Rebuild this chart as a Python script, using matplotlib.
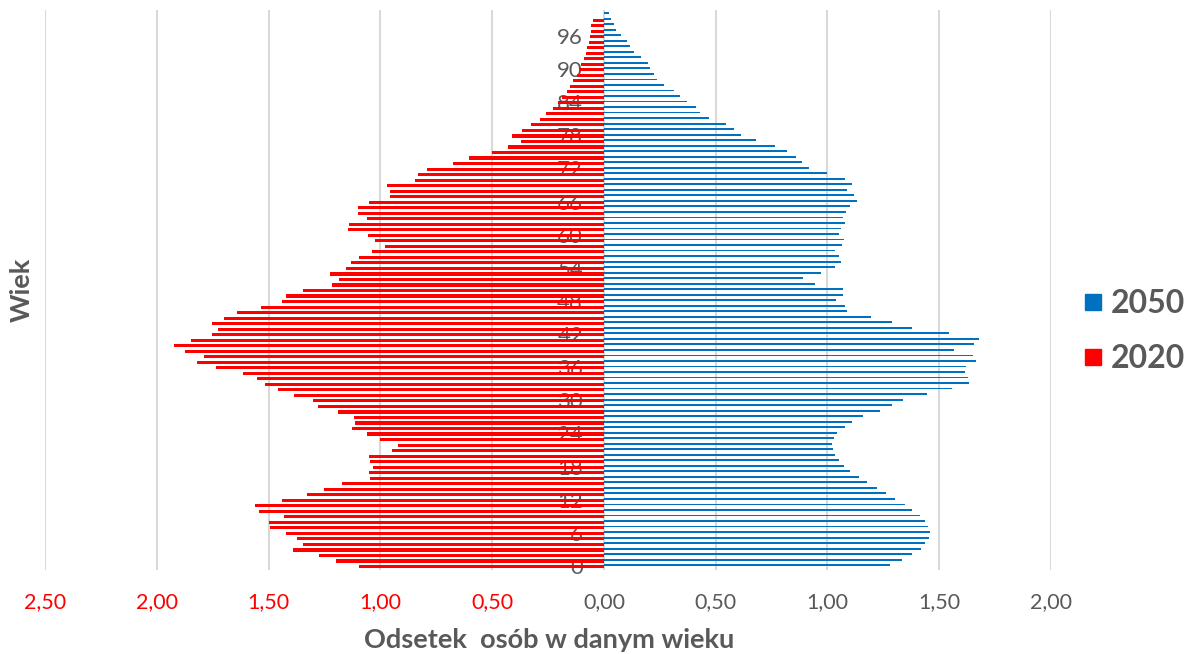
import numpy as np
import matplotlib
matplotlib.use("Agg")
import matplotlib.pyplot as plt
from matplotlib.lines import Line2D

plt.rcParams["font.family"] = ["Lato", "DejaVu Sans"]

# wiek 0..100
ages = np.arange(0, 101)

# odsetek osob w danym wieku, rok 2020 (rysowany po lewej)
share_2020 = [
    1.096, 1.200, 1.273, 1.389, 1.347, 1.371, 1.420, 1.495, 1.499, 1.431,
    1.544, 1.560, 1.441, 1.328, 1.254, 1.173, 1.045, 1.050, 1.035, 1.045,
    1.050, 0.946, 0.923, 1.001, 1.060, 1.127, 1.114, 1.117, 1.191, 1.278,
    1.300, 1.385, 1.458, 1.516, 1.553, 1.615, 1.733, 1.822, 1.787, 1.873,
    1.923, 1.846, 1.751, 1.724, 1.755, 1.700, 1.641, 1.533, 1.441, 1.422,
    1.347, 1.218, 1.187, 1.224, 1.154, 1.133, 1.095, 1.038, 0.978, 1.025,
    1.056, 1.145, 1.142, 1.060, 1.099, 1.099, 1.051, 0.956, 0.956, 0.971,
    0.847, 0.830, 0.792, 0.675, 0.603, 0.499, 0.428, 0.373, 0.410, 0.365,
    0.325, 0.286, 0.260, 0.228, 0.205, 0.187, 0.167, 0.151, 0.138, 0.120,
    0.111, 0.102, 0.089, 0.080, 0.075, 0.066, 0.062, 0.057, 0.056, 0.050,
    0.0,
]

# rok 2050 (po prawej)
share_2050 = [
    1.282, 1.334, 1.377, 1.417, 1.438, 1.455, 1.458, 1.450, 1.435, 1.412,
    1.380, 1.345, 1.304, 1.264, 1.220, 1.179, 1.139, 1.102, 1.075, 1.051,
    1.032, 1.023, 1.020, 1.029, 1.044, 1.077, 1.112, 1.161, 1.234, 1.291,
    1.340, 1.447, 1.557, 1.633, 1.627, 1.614, 1.620, 1.663, 1.651, 1.566,
    1.656, 1.676, 1.545, 1.380, 1.291, 1.194, 1.089, 1.080, 1.039, 1.068,
    1.068, 0.943, 0.889, 0.970, 1.035, 1.059, 1.051, 1.035, 1.066, 1.072,
    1.050, 1.060, 1.080, 1.071, 1.081, 1.102, 1.130, 1.120, 1.086, 1.109,
    1.078, 0.999, 0.919, 0.888, 0.861, 0.818, 0.766, 0.679, 0.612, 0.581,
    0.545, 0.471, 0.432, 0.412, 0.374, 0.342, 0.312, 0.269, 0.237, 0.224,
    0.206, 0.197, 0.167, 0.135, 0.118, 0.103, 0.078, 0.056, 0.045, 0.033,
    0.022,
]

age_ticks = list(range(0, 97, 6))
x_ticks = [-2.5, -2.0, -1.5, -1.0, -0.5, 0.0, 0.5, 1.0, 1.5, 2.0]

RED = "#FF0000"
BLUE = "#0070C0"
GRAY = "#595959"

fig = plt.figure(figsize=(12.02, 6.54), dpi=100)
ax = fig.add_axes([45 / 1202, 84 / 654, 1006 / 1202, 560 / 654])

ax.barh(ages - 0.12, -np.array(share_2020), height=0.56, color=RED, zorder=2)
ax.barh(ages + 0.12, share_2050, height=0.34, color=BLUE, zorder=2)

ax.set_xlim(-2.5, 2.0)
ax.set_ylim(-0.75, 100.7)

# pionowe linie siatki
ax.set_xticks(x_ticks)
ax.grid(axis="x", color="#d9d9d9", linewidth=1.5)
ax.set_axisbelow(True)

labels = [f"{abs(v):.2f}".replace(".", ",") for v in x_ticks]
ax.set_xticklabels(labels, fontsize=15.5)
for lbl, v in zip(ax.get_xticklabels(), x_ticks):
    lbl.set_color(RED if v < 0 else GRAY)
ax.tick_params(axis="x", length=0, pad=16)

# etykiety wieku przy osi zerowej
ax.spines["left"].set_position(("data", 0))
ax.set_yticks(age_ticks)
ax.set_yticklabels([str(a) for a in age_ticks], fontsize=16, color=GRAY)
ax.tick_params(axis="y", length=0, pad=15)

for s in ax.spines.values():
    s.set_visible(False)

fig.text(549 / 1202, 1 - 640 / 654, "Odsetek  osób w danym wieku",
         ha="center", va="center", fontsize=19.5, fontweight="bold", color=GRAY)
fig.text(22 / 1202, 1 - 290 / 654, "Wiek", rotation=90,
         ha="center", va="center", fontsize=19.5, fontweight="bold", color=GRAY)

handles = [
    Line2D([], [], marker="s", linestyle="none", markersize=12, color=BLUE),
    Line2D([], [], marker="s", linestyle="none", markersize=12, color=RED),
]
leg = fig.legend(handles, ["2050", "2020"], loc="center left",
                 bbox_to_anchor=(1084 / 1202, 1 - 331 / 654), frameon=False,
                 borderaxespad=0, borderpad=0,
                 handlelength=0.55, handletextpad=0.3, labelspacing=0.8,
                 fontsize=23)
for t in leg.get_texts():
    t.set_color(GRAY)
    t.set_fontweight("bold")

fig.savefig("out.png", dpi=100)
